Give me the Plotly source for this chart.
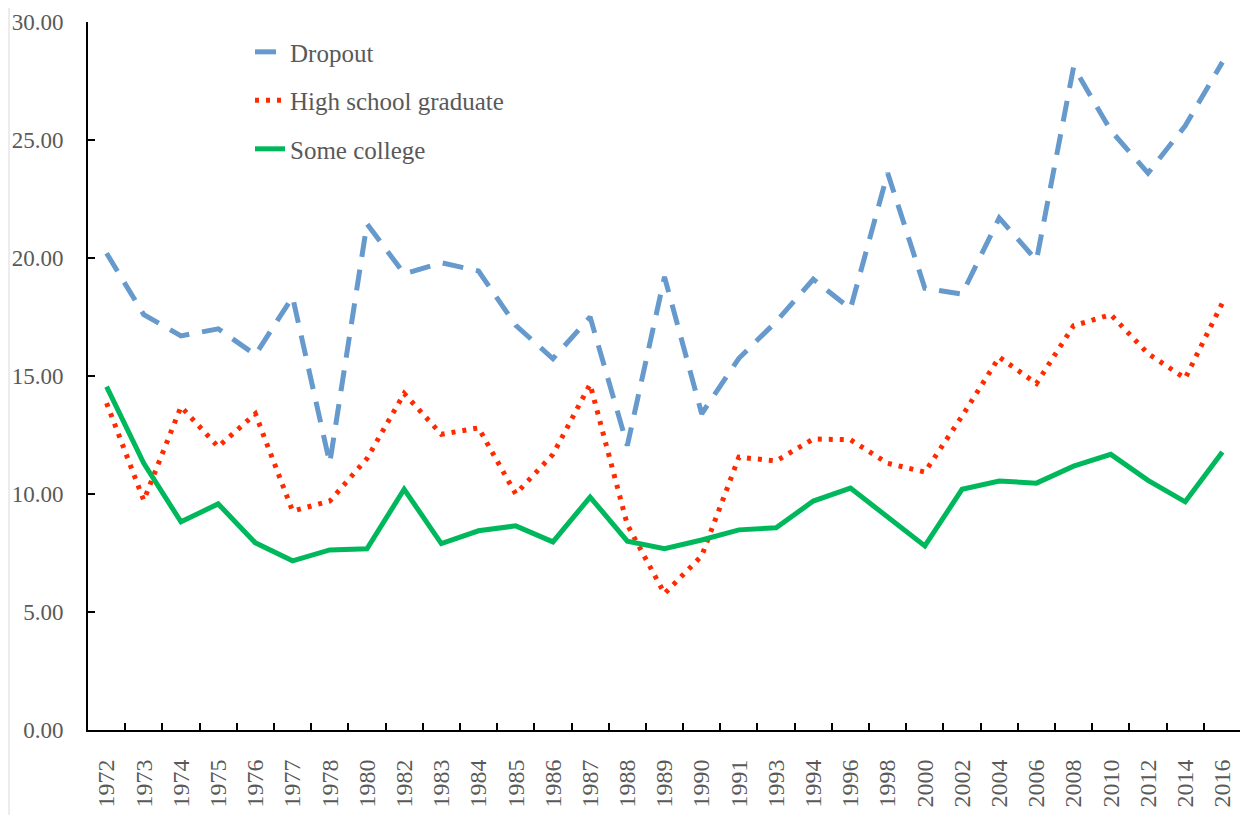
import plotly.graph_objects as go

years = ["1972", "1973", "1974", "1975", "1976", "1977", "1978", "1980", "1982", "1983",
         "1984", "1985", "1986", "1987", "1988", "1989", "1990", "1991", "1993", "1994",
         "1996", "1998", "2000", "2002", "2004", "2006", "2008", "2010", "2012", "2014", "2016"]

dropout = [20.2, 17.6, 16.7, 17.0, 15.9, 18.35, 11.3, 21.45, 19.33, 19.8,
           19.45, 17.15, 15.73, 17.5, 12.05, 19.2, 13.4, 15.75, 17.3, 19.1,
           17.85, 23.6, 18.72, 18.47, 21.7, 19.9, 28.1, 25.4, 23.6, 25.6, 28.3]

high_school = [13.85, 9.73, 13.7, 12.0, 13.4, 9.28, 9.7, 11.5, 14.26, 12.53,
               12.8, 10.0, 11.68, 14.65, 8.7, 5.78, 7.38, 11.56, 11.4, 12.33,
               12.3, 11.3, 10.93, 13.3, 15.8, 14.68, 17.13, 17.6, 15.95, 14.9, 18.1]

some_college = [14.55, 11.3, 8.82, 9.58, 7.93, 7.17, 7.63, 7.68, 10.2, 7.9,
                8.44, 8.65, 7.97, 9.87, 8.0, 7.68, 8.05, 8.48, 8.57, 9.7,
                10.25, 9.0, 7.8, 10.2, 10.55, 10.46, 11.18, 11.68, 10.58, 9.67, 11.78]

y_ticks = [0, 5, 10, 15, 20, 25, 30]

fig = go.Figure()
fig.add_trace(go.Scatter(x=years, y=dropout, name="Dropout", mode="lines",
                         legendgroup="a",
                         line=dict(color="#6699CC", width=5, dash="21px,13px")))
fig.add_trace(go.Scatter(x=years, y=high_school, name="High school graduate", mode="lines",
                         legendgroup="b",
                         line=dict(color="#FF2A00", width=5, dash="4px,7px")))
fig.add_trace(go.Scatter(x=years, y=some_college, name="Some college", mode="lines",
                         legendgroup="c",
                         line=dict(color="#00B85C", width=5)))

tick_font = dict(family="Liberation Serif, Times New Roman, serif", size=23, color="#595959")

# page body has an 8px margin; figure size/margins compensate for it
fig.update_layout(
    width=1240, height=814,
    margin=dict(l=80, r=7, t=14, b=92, autoexpand=False),
    paper_bgcolor="white", plot_bgcolor="white",
    showlegend=True,
    legend=dict(
        x=0.1405, y=0.99, xanchor="left", yanchor="top",
        bgcolor="rgba(0,0,0,0)",
        font=dict(family="Liberation Serif, Cambria, serif", size=25, color="#595959"),
        traceorder="grouped", tracegroupgap=13,
        itemwidth=30,
    ),
    xaxis=dict(
        type="category", range=[-0.5, len(years) - 0.5],
        automargin=False,
        showline=True, linecolor="black", linewidth=2,
        ticks="inside", ticklen=7, tickwidth=2, tickcolor="black",
        tickson="boundaries",
        tickangle=-90, tickfont=dict(tick_font, size=24),
        ticklabelstandoff=18, ticklabeloverflow="allow",
        showgrid=False, zeroline=False,
    ),
    yaxis=dict(
        range=[0, 30], tickvals=y_ticks, tickformat=".2f",
        automargin=False,
        showline=True, linecolor="black", linewidth=2,
        ticks="inside", ticklen=7, tickwidth=2, tickcolor="black",
        tickfont=tick_font, ticklabelstandoff=18, ticklabeloverflow="allow",
        showgrid=False, zeroline=False,
    ),
    shapes=[dict(type="line", xref="paper", yref="paper",
                 x0=-0.0685, x1=-0.0685, y0=-0.12, y1=1.02,
                 line=dict(color="#D9D9D9", width=1))],
)

fig.write_html("out.html")
